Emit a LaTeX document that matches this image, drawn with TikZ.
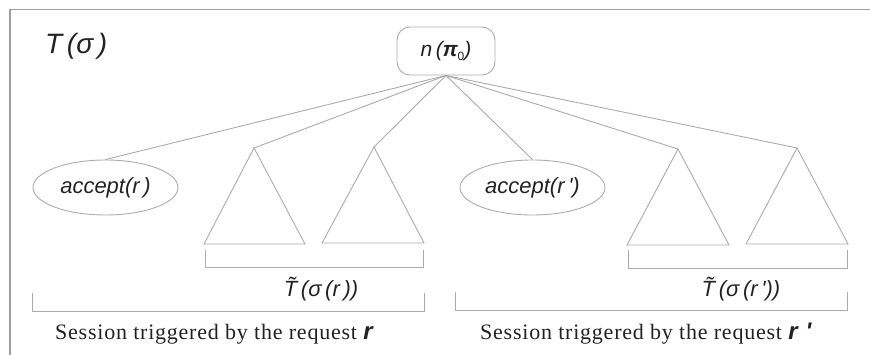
\documentclass[tikz,border=0pt]{standalone}
\usepackage{fontspec}
\setmainfont{Liberation Serif}
\newfontfamily\mathsans{Liberation Sans}
\newfontfamily\sessfont[LetterSpace=3.5]{Liberation Serif}
\usetikzlibrary{shapes.geometric}
\definecolor{linegray}{HTML}{ABABAB}
\definecolor{framegray}{HTML}{A0A0A0}
\definecolor{inkgray}{HTML}{222222}
\tikzset{
  edge/.style={draw=linegray, line width=0.9pt},
  tri/.style={draw=linegray, line width=0.9pt, line join=miter},
  brace/.style={draw=linegray, line width=0.9pt},
  rootbox/.style={draw=linegray, line width=0.9pt, rounded corners=13pt,
    minimum width=98pt, minimum height=48pt, inner sep=0pt,
    font=\mathsans\itshape\fontsize{21}{23}\selectfont, text=inkgray},
  leafell/.style={draw=linegray, line width=0.9pt, ellipse,
    minimum width=145pt, minimum height=55pt, inner sep=0pt,
    font=\mathsans\itshape\fontsize{22}{24}\selectfont, text=inkgray},
  mathlabel/.style={inner sep=0pt, font=\mathsans\itshape\fontsize{22}{24}\selectfont, text=inkgray},
  sesslabel/.style={inner sep=0pt, font=\sessfont\fontsize{22}{24}\selectfont, text=inkgray},
}
\newcommand{\reqvar}[1]{{\mathsans\bfseries\itshape\fontsize{24}{26}\selectfont #1}}
\begin{document}
\begin{tikzpicture}[x=1pt,y=-1pt]
\useasboundingbox (0,0) rectangle (870,355);
% outer frame (left and top edges)
\draw[framegray, line width=1.2pt] (10,355) -- (10,9.5) -- (870,9.5);

% title
\node[mathlabel, font=\mathsans\itshape\fontsize{28}{30}\selectfont, anchor=west] (title) at (45,46) {T\,(σ\,)};

% root of the tree
\node[rootbox] (root) at (446,51) {n\,(\textbf{π}\raisebox{-0.35ex}{\fontsize{12}{12}\selectfont\upshape 0})};

% leaves
\node[leafell] (acc1) at (105.5,187.5) {accept(r\,)};
\node[leafell] (acc2) at (532.5,187.5) {accept(r\,')};

% subtree apexes
\coordinate (t1) at (254,148);
\coordinate (t2) at (374,147);
\coordinate (t3) at (678,149);
\coordinate (t4) at (797,148);

% subtrees
\draw[tri] (t1) -- (204,244) -- (305,244) -- cycle;
\draw[tri] (t2) -- (322,243) -- (424,243) -- cycle;
\draw[tri] (t3) -- (627,245) -- (729,245) -- cycle;
\draw[tri] (t4) -- (746,244) -- (848,244) -- cycle;

% edges from the root
\draw[edge] (root.south) -- (acc1.north);
\draw[edge] (root.south) -- (t1);
\draw[edge] (root.south) -- (t2);
\draw[edge] (root.south) -- (acc2.north);
\draw[edge] (root.south) -- (t3);
\draw[edge] (root.south) -- (t4);

% brackets under the subtrees
\draw[brace] (205,250) -- (205,267.5) -- (423.5,267.5) -- (423.5,250);
\draw[brace] (628,250) -- (628,268) -- (847,268) -- (847,250);
% brackets under each session
\draw[brace] (32,293) -- (32,311.5) -- (424,311.5) -- (424,293);
\draw[brace] (455,292) -- (455,310.5) -- (847,310.5) -- (847,292);

% labels
\node[mathlabel] (lab1) at (321,289) {\~{T}\,(σ\,(r\,))};
\node[mathlabel] (lab2) at (741,289) {\~{T}\,(σ\,(r\,'))};
\node[sesslabel, anchor=west] (ses1) at (55,334) {Session triggered by the request\ \reqvar{r}};
\node[sesslabel, anchor=west] (ses2) at (480,334) {Session triggered by the request\ \reqvar{r\,\,'}};
\end{tikzpicture}
\end{document}
